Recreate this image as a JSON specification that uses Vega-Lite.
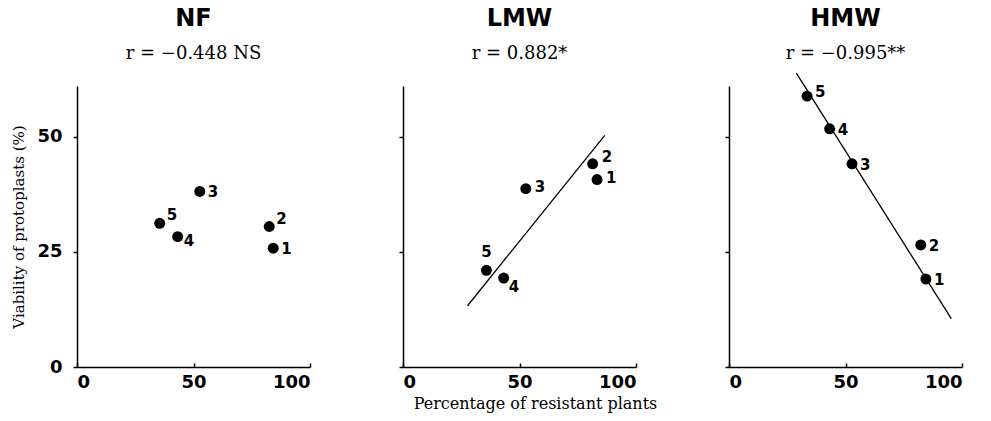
{
  "$schema": "https://vega.github.io/schema/vega-lite/v6.json",
  "background": "white",
  "padding": {"left": 11, "top": 6, "right": 5, "bottom": 5},
  "bounds": "flush",
  "spacing": 93,
  "datasets": {
    "pts": [
      {"panel": "NF", "n": "1", "x": 84.2, "y": 25.8},
      {"panel": "NF", "n": "2", "x": 82.5, "y": 30.5},
      {"panel": "NF", "n": "3", "x": 52.7, "y": 38.1},
      {"panel": "NF", "n": "4", "x": 43.2, "y": 28.3},
      {"panel": "NF", "n": "5", "x": 35.5, "y": 31.2},
      {"panel": "LMW", "n": "1", "x": 83.3, "y": 40.7},
      {"panel": "LMW", "n": "2", "x": 81.4, "y": 44.1},
      {"panel": "LMW", "n": "3", "x": 52.7, "y": 38.7},
      {"panel": "LMW", "n": "4", "x": 43.2, "y": 19.3},
      {"panel": "LMW", "n": "5", "x": 35.8, "y": 21.0},
      {"panel": "HMW", "n": "1", "x": 84.5, "y": 19.1},
      {"panel": "HMW", "n": "2", "x": 82.3, "y": 26.5},
      {"panel": "HMW", "n": "3", "x": 52.8, "y": 44.1},
      {"panel": "HMW", "n": "4", "x": 43.2, "y": 51.7},
      {"panel": "HMW", "n": "5", "x": 33.5, "y": 58.8}
    ],
    "fit": [
      {"panel": "LMW", "x": 27.7, "y": 13.3},
      {"panel": "LMW", "x": 86.6, "y": 50.3},
      {"panel": "HMW", "x": 28.9, "y": 63.8},
      {"panel": "HMW", "x": 95.4, "y": 10.5}
    ]
  },
  "config": {
    "view": {"stroke": null},
    "axis": {
      "grid": false,
      "domainColor": "black",
      "domainWidth": 1.5,
      "tickColor": "black",
      "tickWidth": 1.5,
      "labelColor": "black",
      "labelFont": "DejaVu Sans",
      "labelFontWeight": "bold",
      "labelFontSize": 18,
      "titleColor": "black",
      "titleFont": "DejaVu Serif",
      "titleFontWeight": "normal"
    },
    "title": {
      "font": "DejaVu Sans",
      "fontSize": 24,
      "fontWeight": "bold",
      "color": "black",
      "subtitleFont": "DejaVu Serif",
      "subtitleFontSize": 18,
      "subtitleColor": "black",
      "subtitlePadding": 14,
      "anchor": "middle",
      "frame": "group",
      "offset": 23
    }
  },
  "hconcat": [
    {
      "width": 233,
      "height": 281,
      "title": {"text": "NF", "subtitle": "r = −0.448 NS"},
      "encoding": {
        "x": {"field": "x", "type": "quantitative", "scale": {"domain": [0, 100], "nice": false},
              "axis": {"values": [0, 50, 100], "tickSize": -4, "labelPadding": 10, "title": null}},
        "y": {"field": "y", "type": "quantitative", "scale": {"domain": [0, 61], "nice": false},
              "axis": {"values": [0, 25, 50], "tickSize": 4, "labelPadding": 11, "labelBaseline": "middle",
                       "title": "Viability of protoplasts (%)", "titleFontSize": 15, "titlePadding": 10}}
      },
      "layer": [
        {"data": {"name": "pts"}, "transform": [{"filter": "datum.panel === 'NF'"}],
         "mark": {"type": "circle", "size": 120, "color": "black", "opacity": 1}},
        {"data": {"name": "pts"}, "transform": [{"filter": "datum.panel === 'NF' && (datum.n === '1' || datum.n === '3')"}],
         "mark": {"type": "text", "align": "left", "baseline": "middle", "dx": 8, "dy": 1, "font": "DejaVu Sans", "fontWeight": "bold", "fontSize": 15, "color": "black"},
         "encoding": {"text": {"field": "n"}}},
        {"data": {"name": "pts"}, "transform": [{"filter": "datum.panel === 'NF' && (datum.n === '2' || datum.n === '5')"}],
         "mark": {"type": "text", "align": "left", "baseline": "middle", "dx": 7, "dy": -8, "font": "DejaVu Sans", "fontWeight": "bold", "fontSize": 15, "color": "black"},
         "encoding": {"text": {"field": "n"}}},
        {"data": {"name": "pts"}, "transform": [{"filter": "datum.panel === 'NF' && datum.n === '4'"}],
         "mark": {"type": "text", "align": "left", "baseline": "middle", "dx": 6, "dy": 4, "font": "DejaVu Sans", "fontWeight": "bold", "fontSize": 15, "color": "black"},
         "encoding": {"text": {"field": "n"}}}
      ]
    },
    {
      "width": 233,
      "height": 281,
      "title": {"text": "LMW", "subtitle": "r = 0.882*"},
      "encoding": {
        "x": {"field": "x", "type": "quantitative", "scale": {"domain": [0, 100], "nice": false},
              "axis": {"values": [0, 50, 100], "tickSize": -4, "labelPadding": 10,
                       "title": "Percentage of resistant plants", "titleFontSize": 16, "titlePadding": 4, "titleX": 132}},
        "y": {"field": "y", "type": "quantitative", "scale": {"domain": [0, 61], "nice": false},
              "axis": {"values": [0, 25, 50], "tickSize": 4, "labels": false, "title": null}}
      },
      "layer": [
        {"data": {"name": "fit"}, "transform": [{"filter": "datum.panel === 'LMW'"}],
         "mark": {"type": "line", "color": "black", "strokeWidth": 1.3, "clip": false}},
        {"data": {"name": "pts"}, "transform": [{"filter": "datum.panel === 'LMW'"}],
         "mark": {"type": "circle", "size": 120, "color": "black", "opacity": 1}},
        {"data": {"name": "pts"}, "transform": [{"filter": "datum.panel === 'LMW' && (datum.n === '1' || datum.n === '3')"}],
         "mark": {"type": "text", "align": "left", "baseline": "middle", "dx": 9, "dy": -2, "font": "DejaVu Sans", "fontWeight": "bold", "fontSize": 15, "color": "black"},
         "encoding": {"text": {"field": "n"}}},
        {"data": {"name": "pts"}, "transform": [{"filter": "datum.panel === 'LMW' && datum.n === '2'"}],
         "mark": {"type": "text", "align": "left", "baseline": "middle", "dx": 9, "dy": -7, "font": "DejaVu Sans", "fontWeight": "bold", "fontSize": 15, "color": "black"},
         "encoding": {"text": {"field": "n"}}},
        {"data": {"name": "pts"}, "transform": [{"filter": "datum.panel === 'LMW' && datum.n === '4'"}],
         "mark": {"type": "text", "align": "left", "baseline": "middle", "dx": 5, "dy": 9, "font": "DejaVu Sans", "fontWeight": "bold", "fontSize": 15, "color": "black"},
         "encoding": {"text": {"field": "n"}}},
        {"data": {"name": "pts"}, "transform": [{"filter": "datum.panel === 'LMW' && datum.n === '5'"}],
         "mark": {"type": "text", "align": "center", "baseline": "middle", "dx": 0, "dy": -18, "font": "DejaVu Sans", "fontWeight": "bold", "fontSize": 15, "color": "black"},
         "encoding": {"text": {"field": "n"}}}
      ]
    },
    {
      "width": 233,
      "height": 281,
      "title": {"text": "HMW", "subtitle": "r = −0.995**", "offset": 8},
      "encoding": {
        "x": {"field": "x", "type": "quantitative", "scale": {"domain": [0, 100], "nice": false},
              "axis": {"values": [0, 50, 100], "tickSize": -4, "labelPadding": 10, "title": null}},
        "y": {"field": "y", "type": "quantitative", "scale": {"domain": [0, 61], "nice": false},
              "axis": {"values": [0, 25, 50], "tickSize": 4, "labels": false, "title": null}}
      },
      "layer": [
        {"data": {"name": "fit"}, "transform": [{"filter": "datum.panel === 'HMW'"}],
         "mark": {"type": "line", "color": "black", "strokeWidth": 1.3, "clip": false}},
        {"data": {"name": "pts"}, "transform": [{"filter": "datum.panel === 'HMW'"}],
         "mark": {"type": "circle", "size": 120, "color": "black", "opacity": 1}},
        {"data": {"name": "pts"}, "transform": [{"filter": "datum.panel === 'HMW' && datum.n !== '5'"}],
         "mark": {"type": "text", "align": "left", "baseline": "middle", "dx": 8, "dy": 1, "font": "DejaVu Sans", "fontWeight": "bold", "fontSize": 15, "color": "black"},
         "encoding": {"text": {"field": "n"}}},
        {"data": {"name": "pts"}, "transform": [{"filter": "datum.panel === 'HMW' && datum.n === '5'"}],
         "mark": {"type": "text", "align": "left", "baseline": "middle", "dx": 8, "dy": -4, "font": "DejaVu Sans", "fontWeight": "bold", "fontSize": 15, "color": "black"},
         "encoding": {"text": {"field": "n"}}}
      ]
    }
  ]
}
